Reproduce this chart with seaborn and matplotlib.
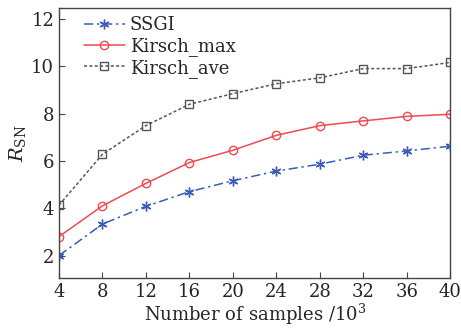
import numpy as np
import pandas as pd
import matplotlib
matplotlib.use('Agg')
import matplotlib.pyplot as plt
import seaborn as sns

# Data
samples = [4, 8, 12, 16, 20, 24, 28, 32, 36, 40]
ssgi = [2.0, 3.33, 4.08, 4.7, 5.16, 5.57, 5.86, 6.24, 6.42, 6.62]
kirsch_max = [2.8, 4.1, 5.05, 5.93, 6.45, 7.08, 7.49, 7.69, 7.88, 7.97]
kirsch_ave = [4.13, 6.28, 7.49, 8.39, 8.84, 9.26, 9.51, 9.9, 9.9, 10.16]
x_ticks = [4, 8, 12, 16, 20, 24, 28, 32, 36, 40]
y_ticks = [2, 4, 6, 8, 10, 12]

sns.set_theme(style='white')
plt.rcParams['font.family'] = ['DejaVu Serif']
plt.rcParams['mathtext.fontset'] = 'dejavuserif'

df = pd.DataFrame({
    'samples': samples * 3,
    'value': ssgi + kirsch_max + kirsch_ave,
    'method': ['SSGI'] * 10 + ['Kirsch_max'] * 10 + ['Kirsch_ave'] * 10,
})

styles = {
    'SSGI': dict(color='#3a5cb8', ls=(0, (6, 2.5, 1.5, 2.5)), marker=(6, 2, 0), ms=7, mfc='#3a5cb8'),
    'Kirsch_max': dict(color='#f04a50', ls='-', marker='o', ms=6, mfc='none'),
    'Kirsch_ave': dict(color='#555555', ls=(0, (2, 1.5)), marker='s', ms=6, mfc='none'),
}

fig, ax = plt.subplots(figsize=(4.61, 3.29), dpi=100)
for name, st in styles.items():
    sub = df[df['method'] == name]
    sns.lineplot(data=sub, x='samples', y='value', ax=ax, label=name,
                 color=st['color'], linestyle=st['ls'], marker=st['marker'],
                 markersize=st['ms'], markerfacecolor=st['mfc'],
                 markeredgecolor=st['color'], markeredgewidth=1.0, lw=1.1)

ax.set_xlim(4, 40)
ax.set_ylim(1.05, 12.45)
ax.set_xticks(x_ticks)
ax.set_yticks(y_ticks)
ax.tick_params(direction='in', length=4, width=0.8, labelsize=13, color='#444444',
               bottom=True, left=True, top=False, right=False)
for sp in ax.spines.values():
    sp.set_color('#444444')
    sp.set_linewidth(1.0)

ax.set_xlabel('Number of samples /10$^3$', fontsize=13, labelpad=1)
ax.set_ylabel(r'$R_{\mathrm{SN}}$', fontsize=14, labelpad=2)

leg = ax.legend(loc='upper left', frameon=False, fontsize=13, handlelength=2.3,
                handletextpad=0.25, labelspacing=0.15, borderaxespad=0.2,
                bbox_to_anchor=(0.035, 1.01))

fig.subplots_adjust(left=0.128, right=0.977, top=0.975, bottom=0.155)
fig.savefig('out.png', dpi=100)
